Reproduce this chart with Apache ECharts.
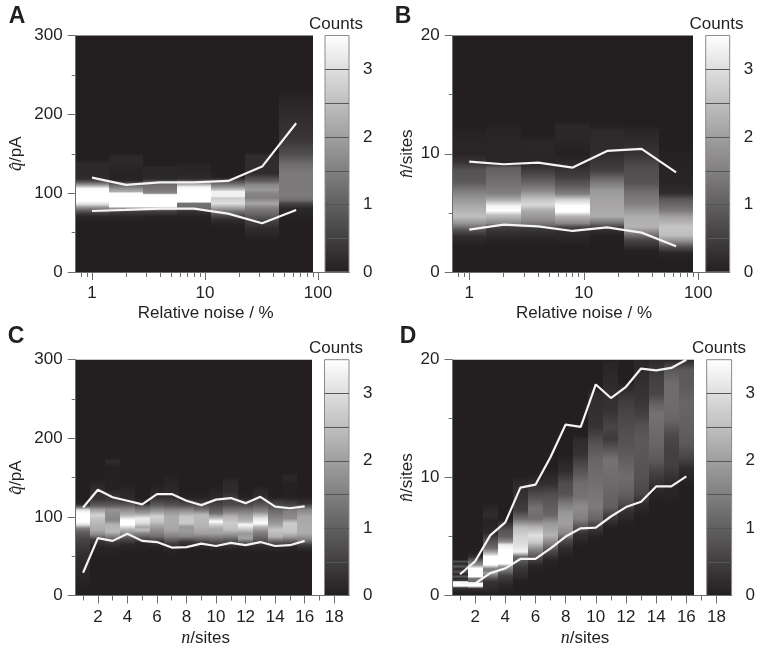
<!DOCTYPE html>
<html><head><meta charset="utf-8"><style>html,body{margin:0;padding:0;background:#fff}#c{width:770px;height:654px}</style>
<script src="https://cdn.jsdelivr.net/npm/echarts@6/dist/echarts.min.js"></script></head>
<body><div id="c"></div><script>
// ---------- data ----------
const noiseCentres = [1, 2, 4, 8, 16, 32, 64];
const noiseEdges = [0.707, 1.414, 2.83, 5.66, 11.3, 22.6, 45.3, 90.5];
const siteCentres = [1, 2, 3, 4, 5, 6, 7, 8, 9, 10, 11, 12, 13, 14, 15, 16];
const siteEdges = [0.5, 1.5, 2.5, 3.5, 4.5, 5.5, 6.5, 7.5, 8.5, 9.5, 10.5, 11.5, 12.5, 13.5, 14.5, 15.5, 16.5];

const upperA = [119.8, 110.5, 113.8, 113.8, 115.5, 133.7, 188.7];
const lowerA = [77.4, 78.7, 80.4, 80.4, 74, 61.8, 78.7];
const upperB = [9.34, 9.11, 9.25, 8.83, 10.24, 10.41, 8.43];
const lowerB = [3.58, 4.0, 3.86, 3.47, 3.78, 3.33, 2.17];
const upperC = [112, 134.5, 125, 120.5, 116, 129, 129, 120.5, 115, 122, 124, 117.5, 125.5, 113, 111, 113.5];
const lowerC = [29, 73, 69.5, 78.5, 69.5, 68, 61, 61.5, 66, 63, 67, 64, 68, 63, 64, 69.5];
const upperD = [1.8, 2.9, 5.1, 6.2, 9.15, 9.4, 11.75, 14.5, 14.3, 17.9, 16.75, 17.7, 19.25, 19.1, 19.3, 20];
const lowerD = [1.05, 1.02, 1.9, 2.3, 3.1, 3.1, 4.0, 5.0, 5.7, 5.75, 6.7, 7.5, 7.95, 9.25, 9.25, 10.1];

// each column: [y value, counts] pairs, top to bottom
const heatA = [
 [[142,0],[137,.15],[125,.15],[118,.2],[114,.9],[110,2],[106,3.4],[100,3.8],[90,3.6],[86,3],[82,1.8],[78,1],[74,.4],[70,.1],[60,0]],
 [[150,.02],[147,.15],[140,.15],[125,.05],[116,.1],[111,1],[104,2],[102,2.2],[100,3.6],[83,3.6],[81,2],[77,.5],[70,.1],[62,0]],
 [[135,.02],[133,.12],[125,.12],[118,.15],[113,1.1],[104,1.4],[100,1.6],[98,3.6],[83,3.6],[81,2],[77,.5],[70,.05]],
 [[135,.1],[125,.1],[118,.2],[113,1.5],[108,3.3],[104,3.8],[89,3.8],[87,1.3],[81,1.2],[77,.3],[70,.05]],
 [[120,.05],[113,1],[108,1.8],[104,2.6],[102,3.3],[96,3.3],[94,2.7],[87,3],[81,2],[77,1.3],[70,.5],[66,.2],[60,.05]],
 [[150,.03],[148,.2],[125,.2],[115,1],[111,1.6],[104,1.9],[100,1.6],[94,1.5],[87,2.1],[81,1.5],[72,1],[64,.5],[55,.2],[47,.1],[40,0]],
 [[225,.03],[220,.1],[170,.35],[150,.7],[137,1.2],[125,1.4],[96,1.4],[91,1.2],[87,.6],[81,.15],[70,.05]]
];
const heatB = [
 [[12,.03],[11,.1],[10,.1],[9.3,.3],[8.6,.8],[7.6,.9],[6.9,1.4],[6.1,1.9],[5.5,2.2],[4.7,2.5],[4.1,1.8],[3.55,.8],[3,.2],[2.4,.05]],
 [[12.3,.03],[12,.1],[9.2,.1],[8.8,1],[7.8,1.2],[6.65,1.5],[6.1,2.2],[5.6,3.3],[5.2,3.5],[4.8,2.5],[4.1,1.6],[3.8,.5],[3.2,.2],[2.6,.05]],
 [[11.3,.03],[11,.12],[9.2,.1],[8.35,.6],[7.8,.9],[6.9,1.6],[6.1,2.6],[5.67,2.9],[5.2,2.2],[4.4,1.7],[3.98,1.2],[3.7,.4],[3.1,.15],[2.5,.03]],
 [[12.6,.03],[12.3,.15],[11,.1],[10,.03],[8.9,.2],[8,.5],[7.2,1],[6.6,1.5],[6.1,2.8],[5.6,3.6],[5.1,3.8],[4.7,2.3],[4.1,1.6],[3.8,.6],[3.4,.2],[2.7,.1],[2.2,0]],
 [[12.2,.05],[12,.15],[10,.2],[8.6,.5],[7.8,1.2],[6.9,1.9],[5.8,2.1],[4.7,2.2],[4.1,1.2],[3.7,.3],[3.1,.05]],
 [[12,.1],[10,.3],[8.9,.7],[7.6,.8],[6.8,1.2],[5.8,1.5],[4.7,2.2],[3.8,2.3],[3.3,1.5],[2.7,.6],[2.1,.2],[1.8,.05]],
 [[10,.05],[7.5,.1],[6.65,.2],[6.1,.9],[5.2,1.4],[4.7,2],[3.8,2.6],[3.1,2.5],[2.6,1.7],[2.1,.7],[1.6,.1],[1,0]]
];
const heatC = [
 [[118,.05],[115,.3],[112,1.4],[109,3],[105,3.7],[94,3.7],[90,3],[85.5,1.5],[81,1],[72,.6],[54,.25],[30,.12],[10,.02]],
 [[145,.05],[134,.2],[122,.35],[114,1],[109,2],[102.5,2.8],[96,2.5],[90,2.3],[83.5,2.2],[77,1.6],[71,.4],[62,.1],[52,.02]],
 [[175,.02],[170,.2],[163,.02],[135,.05],[122,.4],[114,1],[109,1.8],[102.5,1.7],[96,1.6],[90,2.3],[81,2.4],[75,1.5],[68.5,.4],[60,.1],[50,.02]],
 [[140,.05],[122,.2],[115,.9],[109,1.7],[102.5,2.3],[96,3.6],[90,3.8],[84,2.3],[79,1.7],[72.5,.7],[64,.1],[55,.02]],
 [[125,.02],[117,.15],[112,1.1],[105,1.9],[98,3.2],[92,3],[87,2.1],[83.5,2.5],[79,1.6],[72.5,.7],[66.5,.1],[58,.02]],
 [[140,.03],[126,.2],[115,.9],[107,1.9],[100.5,2.8],[94,2.6],[87.6,2],[81,1.6],[75,1.2],[68.5,.3],[60,.02]],
 [[150,.05],[126,.2],[115,.8],[107,1.8],[100.5,2.2],[92,2.2],[83.5,2.1],[75,1.5],[66.5,.5],[60,.1],[52,.02]],
 [[125,.05],[115,.7],[109,1.6],[100.5,2.6],[92,2.7],[87.6,1.9],[81,1.9],[75,1.6],[68.5,.4],[60,.02]],
 [[125,.05],[117,.4],[109,1.3],[102.5,2.4],[94,2.4],[87.6,2.3],[79,2],[72.5,1.2],[66.5,.3],[58,.02]],
 [[135,.05],[124,.15],[115,.6],[105,1.2],[98,2.5],[94,3.7],[91,2.9],[85.5,2.2],[79,2],[71,1.1],[64,.2],[56,.02]],
 [[145,.15],[132,.2],[115,.7],[107,1.5],[100.5,2.3],[92,2.7],[83.5,2.5],[75,1.5],[66.5,.4],[58,.02]],
 [[125,.05],[115,.7],[107,1.5],[100.5,2],[94,2.4],[90,3.4],[85.5,2.8],[79,1.9],[72.5,2],[66.5,.7],[62,.1],[55,.02]],
 [[135,.1],[126,.2],[115,.9],[107,1.6],[98,3.1],[92,3.5],[87,2.3],[81,1.6],[71,.9],[64,.2],[56,.02]],
 [[125,.03],[115,.7],[107,1.2],[98,1.6],[90,2],[83.5,2.6],[75,2.3],[68.5,1],[62,.15],[54,.02]],
 [[150,.15],[143,.05],[125,.03],[115,.6],[107,1.5],[98,1.7],[92,2.7],[81,2.6],[75,2],[68.5,.9],[62,.1],[54,.02]],
 [[125,.03],[117,.3],[109,1.6],[100.5,2.1],[87.6,2.2],[79,2.2],[71,1.5],[64,.4],[56,.02]]
];
const heatD = [
 [[3.05,0],[2.87,.8],[2.7,.1],[2.44,.9],[2.25,.1],[2.0,.8],[1.8,.1],[1.6,.9],[1.45,.2],[1.25,.4],[1.17,3.6],[.8,3.6],[.65,.3],[.3,.05]],
 [[3.3,.2],[2.87,1.2],[2.6,1.7],[2.3,3.6],[1.6,3.6],[1.45,1.4],[1.17,1.1],[1.03,3.6],[.8,3.5],[.6,.3],[.3,.05]],
 [[7.5,.1],[6.8,.2],[6.25,.05],[5.3,.15],[4.85,.6],[4.4,.9],[4,1.2],[3.7,2],[3.3,3.5],[2.6,3.5],[2.3,1.6],[2.1,1.4],[1.9,2],[1.55,1],[1.17,.3],[.75,.2],[.2,.05]],
 [[6.4,.05],[6.1,.3],[5.55,.8],[5,1],[4.55,1.7],[4.3,3.2],[3.85,3.7],[2.7,3.7],[2.45,1.8],[2,1.1],[1.65,.5],[1,.15],[.4,.02]],
 [[9.7,.12],[8.35,.3],[7.2,.5],[6.5,1.2],[5.8,2.4],[5.1,2.8],[4.3,3],[3.7,3.3],[3.3,1.2],[2.4,.4],[1.7,.2],[1.3,.05]],
 [[10,.05],[8.9,.5],[8.1,.9],[7.4,1.3],[6.5,1.2],[5.8,2.3],[5.1,3],[4.55,2.7],[3.84,1.5],[3.1,.6],[2.55,.1],[2,.02]],
 [[10.3,.1],[9.5,.25],[8.6,.7],[7.8,.9],[6.8,1.1],[6.1,1.9],[5.1,2.3],[4.4,1.5],[3.7,.6],[3,.1],[2.4,.02]],
 [[11.5,.1],[10.6,.2],[9.5,.7],[8.6,.8],[7.8,1.4],[6.95,1.9],[6.1,2],[5.25,1.6],[4.7,.7],[4,.2],[3.2,.02]],
 [[13.2,.2],[12,.3],[10.9,.7],[9.5,1.2],[8.35,1.3],[7.5,1.7],[6.5,1.5],[5.8,.8],[5.2,.25],[4.4,.05]],
 [[17.1,.2],[14.3,.3],[12.9,.8],[11.5,1.1],[10,1.2],[8.6,1.35],[7.5,1.4],[6.5,1.1],[5.8,.4],[5.1,.1]],
 [[19.7,.1],[15.7,.3],[14.3,.6],[13.3,.4],[12.3,.9],[11.5,1.3],[10,1.2],[8.6,1.1],[7.5,1],[6.8,.5],[6.1,.15]],
 [[17.7,.15],[16.3,.5],[14.3,.7],[12.9,.8],[11.5,1],[10,1.2],[8.6,1],[7.8,.7],[7.2,.3],[6.4,.1]],
 [[20,.1],[18,.25],[16.5,.35],[15.4,.5],[14.3,.8],[12.9,.9],[11.5,.85],[10,.8],[8.6,.6],[7.8,.2],[7,.05]],
 [[20,.15],[18.5,.5],[17.1,.6],[16.3,1],[15.4,1.3],[14.3,1.2],[12.9,1.1],[11.5,.9],[10.3,.5],[8.9,.12],[7.8,0]],
 [[20,.1],[19.1,.9],[18,1.2],[16.3,1.2],[14.9,1.1],[13.6,.65],[12.3,.5],[10.9,.5],[9.2,.1],[8.1,.05]],
 [[20,.15],[19.1,.9],[18,.9],[16.3,1.1],[14.3,1],[12.9,.9],[11.7,.6],[10.8,.2],[9.5,.03]]
];

const yMajorQ = 300, yMajorN = 20;
const noiseMajor = [1, 10, 100];
const noiseMinor = [.8, .9, 2, 3, 4, 5, 6, 7, 8, 9, 20, 30, 40, 50, 60, 70, 80, 90];
const siteMajor = [2, 4, 6, 8, 10, 12, 14, 16, 18];
const siteMinor = [1, 3, 5, 7, 9, 11, 13, 15, 17];
const countLabels = [0, 1, 2, 3];
const countLines = [0.5, 1, 1.5, 2, 2.5, 3];
const countMax = 3.5;

// ---------- drawing ----------
const FONT = '"Liberation Sans", Arial, sans-serif';
const SERIF = '"Liberation Serif", "Times New Roman", serif';
const INK = '#231f20', AXIS = '#6d6e71';
const shade = v => {
  const t = Math.min(v, countMax) / countMax;
  const c = b => Math.round(b + (255 - b) * t);
  return `rgb(${c(35)},${c(31)},${c(32)})`;
};
const chart = echarts.init(document.getElementById('c'), null, {renderer: 'canvas'});
const option = {animation: false, backgroundColor: '#fff', grid: [], xAxis: [], yAxis: [], series: [], graphic: []};

function text(t, x, y, o) {
  option.graphic.push({type: 'text', x, y, silent: true, z: 20,
    style: Object.assign({text: t, fill: INK, font: `17px ${FONT}`, align: 'center', verticalAlign: 'middle'}, o || {})});
}
const richFont = {it: {fontFamily: SERIF, fontStyle: 'italic', fontSize: 18, color: INK}};

function panel(p) {
  const gi = option.grid.length;
  option.grid.push({left: p.left, top: p.top, width: p.right - p.left, height: p.bottom - p.top, containLabel: false});
  option.grid.push({left: p.barL, top: p.top, width: p.barR - p.barL, height: p.bottom - p.top, containLabel: false});
  const xi = option.xAxis.length, yi = option.yAxis.length;
  const isLog = p.xType === 'log';
  const baseX = {type: p.xType, gridIndex: gi, min: p.xMin, max: p.xMax, position: 'bottom', z: 3, splitLine: {show: false},
    axisLine: {show: true, lineStyle: {color: AXIS, width: 1}}};
  if (isLog) baseX.logBase = 10;
  option.xAxis.push(Object.assign({}, baseX, {
    axisTick: {show: true, length: 8, lineStyle: {color: AXIS}, customValues: p.major},
    axisLabel: {show: true, margin: 13, fontFamily: FONT, fontSize: 17, color: INK, hideOverlap: false, customValues: p.major}
  }));
  option.xAxis.push(Object.assign({}, baseX, {
    axisTick: {show: true, length: 5, lineStyle: {color: AXIS}, customValues: p.minor},
    axisLabel: {show: false}
  }));
  option.xAxis.push({type: 'value', gridIndex: gi + 1, min: 0, max: 1, show: false});
  option.yAxis.push({type: 'value', gridIndex: gi, min: 0, max: p.yMax, interval: p.yInt, z: 3,
    axisLine: {show: true, lineStyle: {color: AXIS, width: 1}},
    axisTick: {show: true, length: 8, lineStyle: {color: AXIS}},
    minorTick: {show: true, splitNumber: 2, length: 4, lineStyle: {color: AXIS}},
    splitLine: {show: false}, minorSplitLine: {show: false},
    axisLabel: {margin: 13, fontFamily: FONT, fontSize: 17, color: INK},
    name: p.yName, nameLocation: 'middle', nameGap: p.nameGap, nameRotate: 90,
    nameTextStyle: {fontFamily: FONT, fontSize: 17, color: INK, rich: Object.assign({}, richFont, {t: {fontFamily: FONT, fontSize: 17, color: INK}})}
  });
  option.yAxis.push({type: 'value', gridIndex: gi + 1, min: 0, max: countMax, position: 'right', z: 5,
    axisLine: {show: false}, axisTick: {show: false}, splitLine: {show: false},
    axisLabel: {margin: 14, fontFamily: FONT, fontSize: 17, color: INK, customValues: countLabels}
  });
  // heat columns: a rectangle per column, its vertical fill built from the read counts
  const yMax = p.yMax;
  option.series.push({type: 'custom', xAxisIndex: xi, yAxisIndex: yi, clip: false, z: 2, silent: true,
    data: p.centres.map((c, i) => [c, i]), encode: {x: 0, y: 1},
    renderItem(params, api) {
      const i = params.dataIndex;
      const a = api.coord([p.edges[i], yMax]), b = api.coord([p.edges[i + 1], 0]);
      const x0 = Math.round(a[0]), x1 = Math.round(b[0]);
      const col = p.heat[i];
      const inner = col.map(d => ({offset: 1 - d[0] / yMax, color: shade(d[1])}));
      const fadeIn = Math.max(0, inner[0].offset - 0.02);
      const fadeOut = Math.min(1, inner[inner.length - 1].offset + 0.02);
      const stops = [{offset: 0, color: shade(0)}, {offset: fadeIn, color: shade(0)}]
        .concat(inner)
        .concat([{offset: fadeOut, color: shade(0)}, {offset: 1, color: shade(0)}]);
      return {type: 'rect', shape: {x: x0, y: a[1], width: x1 - x0, height: b[1] - a[1]},
        style: {fill: new echarts.graphic.LinearGradient(0, 0, 0, 1, stops)}};
    }});
  [p.upper, p.lower].forEach(arr => option.series.push({type: 'line', xAxisIndex: xi, yAxisIndex: yi, z: 4, silent: true,
    showSymbol: false, symbol: 'none', clip: true,
    lineStyle: {color: '#f4f4f2', width: 2.2}, data: p.centres.map((c, i) => [c, arr[i]])}));
  // colour bar with its dividing lines
  option.series.push({type: 'custom', xAxisIndex: xi + 2, yAxisIndex: yi + 1, clip: false, z: 2, silent: true,
    data: [[0, countMax]], encode: {x: 0, y: 1},
    renderItem(params, api) {
      const a = api.coord([0, countMax]), b = api.coord([1, 0]);
      const children = [{type: 'rect', shape: {x: a[0], y: a[1], width: b[0] - a[0], height: b[1] - a[1]},
        style: {stroke: '#8a8b8d', lineWidth: 1,
          fill: new echarts.graphic.LinearGradient(0, 0, 0, 1, [{offset: 0, color: shade(countMax)}, {offset: 1, color: shade(0)}])}}];
      countLines.forEach(v => {
        const y = Math.round(api.coord([0, v])[1]) + 0.5;
        children.push({type: 'line', shape: {x1: a[0], y1: y, x2: b[0], y2: y}, style: {stroke: '#55565a', lineWidth: 1}});
      });
      return {type: 'group', children};
    }});
  text(p.letter, p.letterX, p.letterY, {font: `bold 23px ${FONT}`});
  text('Counts', p.countsX, p.countsY);
  text(p.xName, p.xNameX, p.xNameY, p.xRich ? {rich: richFont} : {});
}

const logMin = 0.717, logMax = 188;
panel({letter: 'A', letterX: 17, letterY: 17, left: 75.7, right: 349, top: 35.5, bottom: 272, barL: 325, barR: 349,
  xType: 'log', xMin: logMin, xMax: logMax, major: noiseMajor, minor: noiseMinor, yMax: yMajorQ, yInt: 100, nameGap: 50,
  centres: noiseCentres, edges: noiseEdges, heat: heatA, upper: upperA, lower: lowerA,
  yName: '{it|q̂}/pA', xName: 'Relative noise / %', xNameX: 205.7, xNameY: 313.5, countsX: 336, countsY: 24});
panel({letter: 'B', letterX: 403, letterY: 17, left: 452.7, right: 729.7, top: 35.5, bottom: 272, barL: 705.7, barR: 729.7,
  xType: 'log', xMin: logMin, xMax: logMax, major: noiseMajor, minor: noiseMinor, yMax: yMajorN, yInt: 10, nameGap: 36,
  centres: noiseCentres, edges: noiseEdges, heat: heatB, upper: upperB, lower: lowerB,
  yName: '{it|n̂}/sites', xName: 'Relative noise / %', xNameX: 584, xNameY: 313.5, countsX: 716.5, countsY: 24});
panel({letter: 'C', letterX: 16, letterY: 337, left: 75.7, right: 349, top: 359.7, bottom: 595.5, barL: 324.5, barR: 349,
  xType: 'value', xMin: 0.5, xMax: 19, major: siteMajor, minor: siteMinor, yMax: yMajorQ, yInt: 100, nameGap: 50,
  centres: siteCentres, edges: siteEdges, heat: heatC, upper: upperC, lower: lowerC,
  yName: '{it|q̂}/pA', xName: '{it|n}/sites', xRich: true, xNameX: 205.7, xNameY: 638.5, countsX: 336, countsY: 348});
panel({letter: 'D', letterX: 408, letterY: 337, left: 452.5, right: 731.6, top: 359.7, bottom: 595.5, barL: 706.7, barR: 731.6,
  xType: 'value', xMin: 0.5, xMax: 19, major: siteMajor, minor: siteMinor, yMax: yMajorN, yInt: 10, nameGap: 36,
  centres: siteCentres, edges: siteEdges, heat: heatD, upper: upperD, lower: lowerD,
  yName: '{it|n̂}/sites', xName: '{it|n}/sites', xRich: true, xNameX: 585, xNameY: 638.5, countsX: 719, countsY: 348});

chart.setOption(option);
</script></body></html>
